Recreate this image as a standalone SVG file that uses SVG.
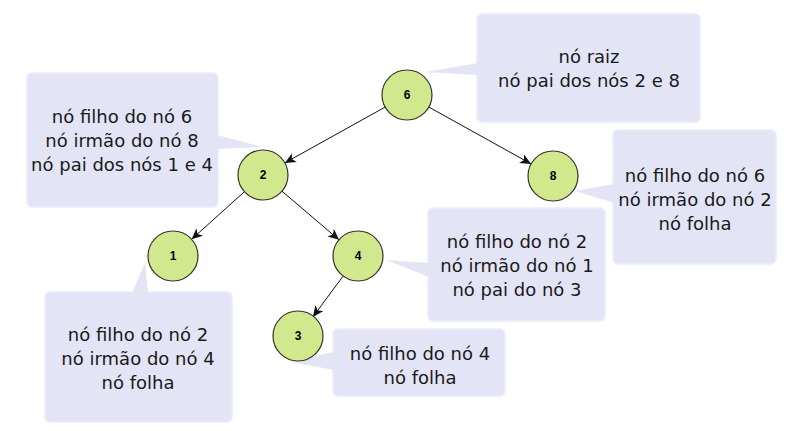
<svg xmlns="http://www.w3.org/2000/svg" width="802" height="431" viewBox="0 0 802 431">
<defs>
<style>
.call{fill:#e4e4f7;stroke:#ecebfa;stroke-width:1.5}
.wedge{fill:#e4e4f7}
.ct{font-family:"DejaVu Sans",Verdana,sans-serif;font-size:18px;fill:#1a1a1a;text-anchor:middle}
.node{fill:#d2e88c;stroke:#333;stroke-width:1.2}
.nl{font-family:"Liberation Sans",Arial,sans-serif;font-size:12px;font-weight:bold;fill:#000;text-anchor:middle}
.edge{stroke:#111;stroke-width:1;fill:none;marker-end:url(#arr)}
</style>
<marker id="arr" markerUnits="userSpaceOnUse" markerWidth="12" markerHeight="12" viewBox="0 0 12 12" refX="11" refY="6" orient="auto">
<path d="M0,1 L11,6 L0,11 L3,6 z" fill="#111"/>
</marker>
</defs>
<rect width="802" height="431" fill="#fff"/>

<g id="callouts">
<g id="callout-6">
<rect class="call" x="477" y="14" width="223" height="108" rx="5"/>
<polygon class="wedge" points="478,63 425,72 478,75"/>
<text class="ct" x="589" y="63">nó raiz</text>
<text class="ct" x="589" y="87">nó pai dos nós 2 e 8</text>
</g>
<g id="callout-2">
<rect class="call" x="27" y="73" width="191" height="134" rx="5"/>
<polygon class="wedge" points="217,135 263,147 217,149"/>
<text class="ct" x="122" y="123">nó filho do nó 6</text>
<text class="ct" x="122" y="147">nó irmão do nó 8</text>
<text class="ct" x="122" y="171">nó pai dos nós 1 e 4</text>
</g>
<g id="callout-8">
<rect class="call" x="613" y="130" width="163" height="134" rx="5"/>
<polygon class="wedge" points="614,184 575,191 614,203"/>
<text class="ct" x="695" y="182">nó filho do nó 6</text>
<text class="ct" x="695" y="206">nó irmão do nó 2</text>
<text class="ct" x="695" y="230">nó folha</text>
</g>
<g id="callout-4">
<rect class="call" x="428" y="208" width="177" height="113" rx="5"/>
<polygon class="wedge" points="429,263 386,260 429,277"/>
<text class="ct" x="517" y="248">nó filho do nó 2</text>
<text class="ct" x="517" y="272">nó irmão do nó 1</text>
<text class="ct" x="517" y="296">nó pai do nó 3</text>
</g>
<g id="callout-1">
<rect class="call" x="45" y="292" width="187" height="130" rx="5"/>
<polygon class="wedge" points="132,293 145,263 148,293"/>
<text class="ct" x="138" y="341">nó filho do nó 2</text>
<text class="ct" x="138" y="365">nó irmão do nó 4</text>
<text class="ct" x="138" y="389">nó folha</text>
</g>
<g id="callout-3">
<rect class="call" x="333" y="329" width="172" height="67" rx="5"/>
<polygon class="wedge" points="334,352 291,362 334,370"/>
<text class="ct" x="420" y="360">nó filho do nó 4</text>
<text class="ct" x="420" y="384">nó folha</text>
</g>
</g>

<g id="connectors">
<line class="edge" x1="385.1" y1="107.1" x2="284.8" y2="162.9"/>
<line class="edge" x1="428.9" y1="107.1" x2="531.1" y2="163.9"/>
<line class="edge" x1="244.4" y1="191.7" x2="191.6" y2="239.3"/>
<line class="edge" x1="282" y1="191.2" x2="339" y2="239.8"/>
<line class="edge" x1="343.1" y1="276.1" x2="312.9" y2="316.9"/>
</g>

<g id="node-6"><circle class="node" cx="407" cy="95" r="25"/><text class="nl" x="407" y="99">6</text></g>
<g id="node-2"><circle class="node" cx="263" cy="175" r="25"/><text class="nl" x="263" y="179">2</text></g>
<g id="node-8"><circle class="node" cx="553" cy="176" r="25"/><text class="nl" x="553" y="180">8</text></g>
<g id="node-1"><circle class="node" cx="173" cy="256" r="25"/><text class="nl" x="173" y="260">1</text></g>
<g id="node-4"><circle class="node" cx="358" cy="256" r="25"/><text class="nl" x="358" y="260">4</text></g>
<g id="node-3"><circle class="node" cx="298" cy="336" r="25"/><text class="nl" x="298" y="340">3</text></g>
</svg>
